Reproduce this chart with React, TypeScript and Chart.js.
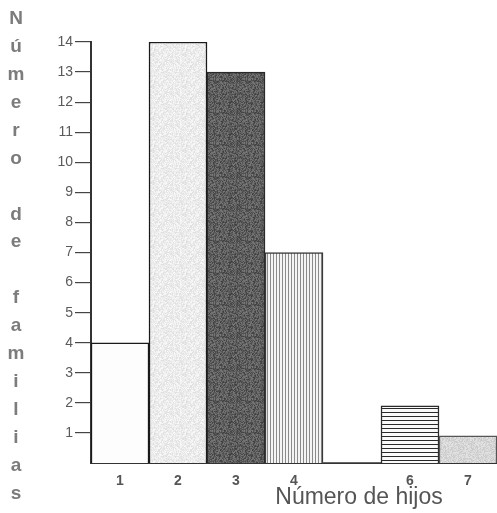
import { useEffect, useRef } from 'react';
import { Chart, registerables } from 'chart.js';

Chart.register(...registerables);

const categories = ['1', '2', '3', '4', '5', '6', '7'];
const categoryTickLabels = ['1', '2', '3', '4', '', '6', '7'];
const familias = [4, 14, 13, 7, 0, 1.9, 0.9];
const yTicks = [1, 2, 3, 4, 5, 6, 7, 8, 9, 10, 11, 12, 13, 14];
const yTitle = 'Número de familias';
const xTitle = 'Número de hijos';

function noise(i: number, j: number, s: number) {
  let h = (i * 374761393 + j * 668265263 + s * 1442695041) | 0;
  h = Math.imul(h ^ (h >>> 13), 1274126177);
  h = h ^ (h >>> 16);
  return (h >>> 0) / 4294967295;
}

function speckle(ctx: CanvasRenderingContext2D, base: number, amp: number, seed: number) {
  const c = document.createElement('canvas');
  c.width = 32;
  c.height = 32;
  const cx = c.getContext('2d')!;
  const img = cx.createImageData(32, 32);
  for (let y = 0; y < 32; y++) {
    for (let x = 0; x < 32; x++) {
      const v = Math.max(0, Math.min(255, base + (noise(x, y, seed) - 0.5) * amp));
      const k = (y * 32 + x) * 4;
      img.data[k] = v;
      img.data[k + 1] = v;
      img.data[k + 2] = v;
      img.data[k + 3] = 255;
    }
  }
  cx.putImageData(img, 0, 0);
  return ctx.createPattern(c, 'repeat')!;
}

function stripes(ctx: CanvasRenderingContext2D, vertical: boolean, period: number, line: string, bg: string) {
  const c = document.createElement('canvas');
  c.width = vertical ? period : 4;
  c.height = vertical ? 4 : period;
  const cx = c.getContext('2d')!;
  cx.fillStyle = bg;
  cx.fillRect(0, 0, c.width, c.height);
  cx.fillStyle = line;
  if (vertical) cx.fillRect(0, 0, 1, c.height);
  else cx.fillRect(0, 0, c.width, 1);
  return ctx.createPattern(c, 'repeat')!;
}

const sideTitles = {
  id: 'sideTitles',
  afterDraw(chart: any) {
    const ctx = chart.ctx as CanvasRenderingContext2D;
    ctx.save();
    ctx.fillStyle = '#7c7c7c';
    ctx.font = 'bold 19px "Liberation Sans", Arial, sans-serif';
    ctx.textAlign = 'center';
    ctx.textBaseline = 'middle';
    const letters = Array.from(yTitle);
    letters.forEach((ch, i) => {
      if (ch !== ' ') ctx.fillText(ch, 16, 19 + i * 27.9);
    });
    ctx.fillStyle = '#555';
    ctx.font = '23px "Liberation Sans", Arial, sans-serif';
    ctx.textAlign = 'center';
    ctx.textBaseline = 'middle';
    ctx.fillText(xTitle, 359, 498);
    ctx.restore();
  },
};

export default function App() {
  const ref = useRef<HTMLCanvasElement>(null);
  useEffect(() => {
    const canvas = ref.current!;
    const ctx = canvas.getContext('2d')!;
    const fills = [
      '#fdfdfd',
      speckle(ctx, 236, 28, 1),
      speckle(ctx, 92, 60, 2),
      stripes(ctx, true, 3, '#8a8a8a', '#f4f4f4'),
      '#ffffff',
      stripes(ctx, false, 4, '#2a2a2a', '#fafafa'),
      speckle(ctx, 214, 30, 3),
    ];
    const chart = new Chart(canvas, {
      type: 'bar',
      data: {
        labels: categories,
        datasets: [
          {
            data: familias,
            backgroundColor: fills as any,
            borderColor: ['#1a1a1a', '#1a1a1a', '#2a2a2a', '#3a3a3a', '#1a1a1a', '#2a2a2a', '#555'],
            borderWidth: [1.5, 1.5, 1.5, 1.5, 0, 1.5, 1.5],
            barPercentage: 1,
            categoryPercentage: 1,
          },
        ],
      },
      options: {
        animation: false,
        responsive: true,
        maintainAspectRatio: false,
        layout: { padding: { top: 42, right: 0, left: 0, bottom: 0 } },
        plugins: { legend: { display: false }, tooltip: { enabled: false }, title: { display: false } },
        scales: {
          x: {
            offset: true,
            grid: { display: true, drawOnChartArea: false, drawTicks: false },
            border: { display: true, color: '#333', width: 2 },
            ticks: {
              padding: 10,
              color: '#555',
              font: { family: '"Liberation Sans", Arial, sans-serif', size: 14, weight: 'bold' },
              callback: (_v: any, i: number) => categoryTickLabels[i],
            },
            afterFit: (s: any) => {
              s.height = 50;
            },
          },
          y: {
            min: 0,
            max: 14,
            grid: { display: true, drawOnChartArea: false, drawTicks: true, tickLength: 16, color: '#444', lineWidth: 1.2 },
            border: { display: true, color: '#333', width: 2 },
            afterBuildTicks: (s: any) => {
              s.ticks = [{ value: 0 }, ...yTicks.map((v) => ({ value: v }))];
            },
            ticks: {
              padding: 2,
              color: '#5a5a5a',
              font: { family: '"Liberation Sans", Arial, sans-serif', size: 14 },
              callback: (v: any) => (v === 0 ? null : String(v)),
            },
            afterFit: (s: any) => {
              s.width = 91;
            },
          },
        },
      },
      plugins: [sideTitles],
    });
    return () => chart.destroy();
  }, []);
  return (
    <div style={{ position: 'fixed', left: 0, top: 0, width: 497, height: 513, background: '#fff' }}>
      <canvas ref={ref} />
    </div>
  );
}
